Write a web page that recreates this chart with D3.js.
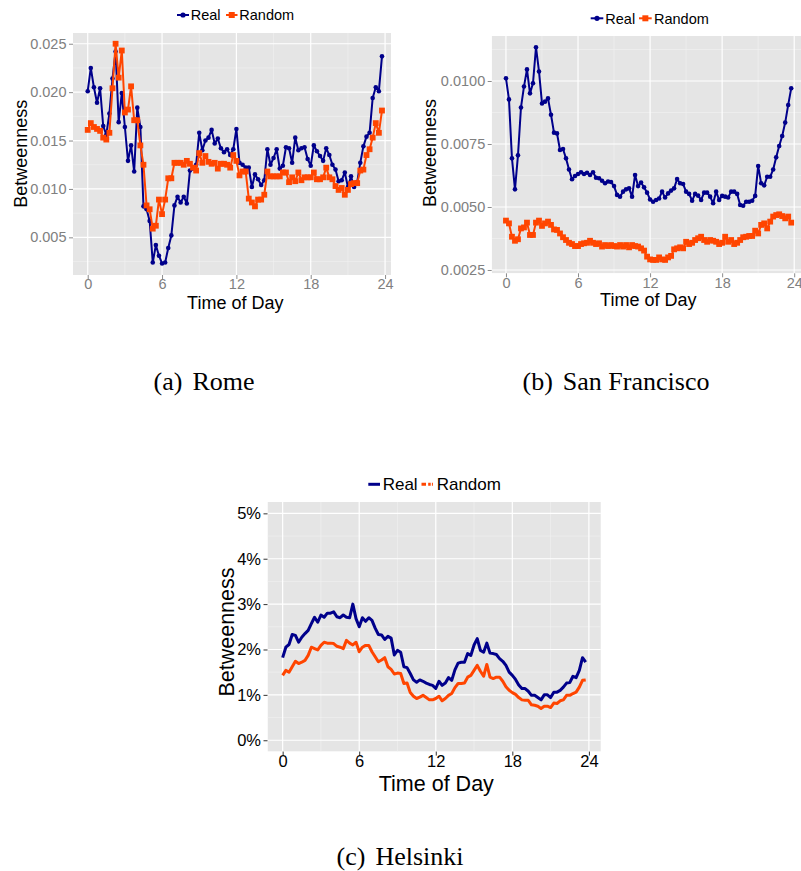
<!DOCTYPE html>
<html>
<head>
<meta charset="utf-8">
<script src="https://cdn.jsdelivr.net/npm/d3@7/dist/d3.min.js"></script>
<style>
  html, body { margin: 0; padding: 0; background: #fff; }
  svg { display: block; }
</style>
</head>
<body>
<svg id="fig" width="801" height="871"></svg>
<script>
// Time of day, in hours, sampled every 15 minutes
const timeOfDay = d3.range(96).map(i => i / 4);

// Rome
const romeReal = [
  0.0201, 0.0225, 0.0205, 0.0189, 0.0204, 0.0165, 0.0156, 0.0178,
  0.0214, 0.0242, 0.0169, 0.0199, 0.0164, 0.0129, 0.0145, 0.0118,
  0.0184, 0.0164, 0.0082, 0.0079, 0.0067, 0.0024, 0.0042, 0.0031,
  0.0023, 0.0024, 0.0039, 0.0052, 0.0083, 0.0092, 0.0086, 0.0092,
  0.0085, 0.0119, 0.0121, 0.0125, 0.0158, 0.0140, 0.0150, 0.0153,
  0.0161, 0.0147, 0.0152, 0.0142, 0.0138, 0.0141, 0.0135, 0.0141,
  0.0162, 0.0127, 0.0125, 0.0122, 0.0122, 0.0102, 0.0115, 0.0110,
  0.0104, 0.0109, 0.0141, 0.0125, 0.0132, 0.0141, 0.0121, 0.0124,
  0.0143, 0.0142, 0.0127, 0.0153, 0.0140, 0.0142, 0.0143, 0.0131,
  0.0124, 0.0145, 0.0139, 0.0134, 0.0129, 0.0142, 0.0135, 0.0125,
  0.0120, 0.0108, 0.0109, 0.0117, 0.0102, 0.0113, 0.0102, 0.0107,
  0.0127, 0.0144, 0.0154, 0.0158, 0.0194, 0.0205, 0.0201, 0.0237
];
const romeRandom = [
  0.0161, 0.0168, 0.0164, 0.0162, 0.0160, 0.0153, 0.0151, 0.0158,
  0.0204, 0.0250, 0.0215, 0.0243, 0.0179, 0.0182, 0.0206, 0.0171,
  0.0171, 0.0145, 0.0125, 0.0083, 0.0079, 0.0059, 0.0062, 0.0089,
  0.0074, 0.0089, 0.0111, 0.0111, 0.0127, 0.0127, 0.0127, 0.0125,
  0.0129, 0.0126, 0.0122, 0.0119, 0.0137, 0.0127, 0.0134, 0.0128,
  0.0126, 0.0127, 0.0121, 0.0126, 0.0126, 0.0125, 0.0122, 0.0135,
  0.0129, 0.0114, 0.0118, 0.0118, 0.0090, 0.0086, 0.0082, 0.0089,
  0.0089, 0.0094, 0.0118, 0.0113, 0.0113, 0.0113, 0.0113, 0.0117,
  0.0117, 0.0107, 0.0112, 0.0108, 0.0117, 0.0109, 0.0112, 0.0112,
  0.0112, 0.0117, 0.0110, 0.0110, 0.0112, 0.0122, 0.0112, 0.0110,
  0.0103, 0.0099, 0.0101, 0.0094, 0.0099, 0.0105, 0.0106, 0.0106,
  0.0119, 0.0120, 0.0135, 0.0141, 0.0153, 0.0168, 0.0158, 0.0181
];

// San Francisco
const sfReal = [
  0.01011, 0.00927, 0.00693, 0.00570, 0.00705, 0.00895, 0.00978, 0.01046,
  0.00951, 0.00991, 0.01134, 0.01038, 0.00911, 0.00918, 0.00931, 0.00866,
  0.00795, 0.00792, 0.00726, 0.00730, 0.00693, 0.00649, 0.00610, 0.00623,
  0.00631, 0.00638, 0.00631, 0.00636, 0.00627, 0.00638, 0.00616, 0.00614,
  0.00604, 0.00594, 0.00601, 0.00599, 0.00583, 0.00548, 0.00541, 0.00561,
  0.00570, 0.00574, 0.00541, 0.00627, 0.00583, 0.00597, 0.00578, 0.00557,
  0.00530, 0.00521, 0.00528, 0.00534, 0.00561, 0.00538, 0.00554, 0.00565,
  0.00574, 0.00611, 0.00594, 0.00591, 0.00561, 0.00552, 0.00525, 0.00552,
  0.00545, 0.00528, 0.00557, 0.00557, 0.00541, 0.00515, 0.00561, 0.00528,
  0.00544, 0.00541, 0.00538, 0.00561, 0.00561, 0.00552, 0.00508, 0.00505,
  0.00521, 0.00521, 0.00525, 0.00544, 0.00663, 0.00594, 0.00586, 0.00620,
  0.00620, 0.00649, 0.00697, 0.00742, 0.00782, 0.00835, 0.00905, 0.00971
];
const sfRandom = [
  0.00446, 0.00435, 0.00382, 0.00366, 0.00372, 0.00415, 0.00419, 0.00438,
  0.00389, 0.00389, 0.00438, 0.00446, 0.00425, 0.00435, 0.00442, 0.00429,
  0.00411, 0.00409, 0.00395, 0.00380, 0.00369, 0.00358, 0.00353, 0.00345,
  0.00345, 0.00353, 0.00356, 0.00358, 0.00366, 0.00358, 0.00353, 0.00356,
  0.00343, 0.00349, 0.00345, 0.00349, 0.00345, 0.00343, 0.00349, 0.00343,
  0.00349, 0.00340, 0.00349, 0.00345, 0.00343, 0.00336, 0.00327, 0.00303,
  0.00292, 0.00290, 0.00290, 0.00300, 0.00292, 0.00290, 0.00300, 0.00306,
  0.00332, 0.00336, 0.00340, 0.00336, 0.00362, 0.00353, 0.00358, 0.00369,
  0.00376, 0.00382, 0.00369, 0.00362, 0.00369, 0.00366, 0.00362, 0.00353,
  0.00358, 0.00382, 0.00362, 0.00369, 0.00353, 0.00358, 0.00369, 0.00380,
  0.00382, 0.00385, 0.00385, 0.00406, 0.00395, 0.00429, 0.00435, 0.00415,
  0.00442, 0.00462, 0.00468, 0.00471, 0.00464, 0.00455, 0.00462, 0.00438
];

// Helsinki (share of shortest paths)
const helReal = [
  0.0182, 0.0205, 0.0211, 0.0233, 0.0231, 0.0216, 0.0227, 0.0235,
  0.0242, 0.0257, 0.0271, 0.0260, 0.0276, 0.0271, 0.0280, 0.0280,
  0.0283, 0.0272, 0.0270, 0.0276, 0.0271, 0.0270, 0.0300, 0.0268,
  0.0250, 0.0270, 0.0262, 0.0270, 0.0264, 0.0247, 0.0233, 0.0232,
  0.0222, 0.0229, 0.0225, 0.0188, 0.0198, 0.0194, 0.0162, 0.0160,
  0.0147, 0.0133, 0.0128, 0.0133, 0.0130, 0.0126, 0.0123, 0.0121,
  0.0114, 0.0130, 0.0121, 0.0126, 0.0138, 0.0132, 0.0155, 0.0170,
  0.0172, 0.0172, 0.0191, 0.0187, 0.0210, 0.0224, 0.0198, 0.0194,
  0.0214, 0.0192, 0.0191, 0.0189, 0.0180, 0.0174, 0.0165, 0.0150,
  0.0143, 0.0134, 0.0122, 0.0114, 0.0114, 0.0108, 0.0099, 0.0099,
  0.0094, 0.0089, 0.0100, 0.0100, 0.0094, 0.0106, 0.0106, 0.0110,
  0.0117, 0.0126, 0.0127, 0.0141, 0.0138, 0.0154, 0.0182, 0.0172
];
const helRandom = [
  0.0143, 0.0154, 0.0150, 0.0162, 0.0174, 0.0169, 0.0172, 0.0176,
  0.0187, 0.0205, 0.0202, 0.0199, 0.0209, 0.0216, 0.0214, 0.0214,
  0.0213, 0.0207, 0.0205, 0.0202, 0.0220, 0.0214, 0.0210, 0.0216,
  0.0195, 0.0205, 0.0209, 0.0209, 0.0195, 0.0184, 0.0173, 0.0177,
  0.0182, 0.0162, 0.0156, 0.0146, 0.0148, 0.0147, 0.0125, 0.0126,
  0.0105, 0.0097, 0.0092, 0.0095, 0.0099, 0.0094, 0.0089, 0.0089,
  0.0092, 0.0097, 0.0087, 0.0092, 0.0099, 0.0103, 0.0116, 0.0125,
  0.0125, 0.0126, 0.0139, 0.0143, 0.0154, 0.0165, 0.0152, 0.0141,
  0.0167, 0.0139, 0.0136, 0.0139, 0.0139, 0.0130, 0.0118, 0.0110,
  0.0105, 0.0101, 0.0094, 0.0089, 0.0088, 0.0088, 0.0078, 0.0077,
  0.0075, 0.0070, 0.0075, 0.0075, 0.0072, 0.0082, 0.0081, 0.0087,
  0.0089, 0.0099, 0.0099, 0.0103, 0.0106, 0.0117, 0.0132, 0.0133
];

// Axis ticks
const hourTicks = [0, 6, 12, 18, 24];
const hourMinorTicks = [3, 9, 15, 21];
const romeTicks = [0.005, 0.010, 0.015, 0.020, 0.025];
const romeMinorTicks = [0.0025, 0.0075, 0.0125, 0.0175, 0.0225];
const sfTicks = [0.0025, 0.0050, 0.0075, 0.0100];
const sfMinorTicks = [0.00375, 0.00625, 0.00875, 0.01125];
const helTicks = [0, 0.01, 0.02, 0.03, 0.04, 0.05];
const helMinorTicks = [0.005, 0.015, 0.025, 0.035, 0.045];

const seriesNames = ["Real", "Random"];
const captions = [["(a)", "Rome"], ["(b)", "San Francisco"], ["(c)", "Helsinki"]];

const BLUE = "#00008b";
const ORANGE = "#ff4500";
const SANS = "'Liberation Sans', Arial, Helvetica, sans-serif";
const SERIF = "'Liberation Serif', 'Times New Roman', serif";

const svg = d3.select("#fig");
svg.append("rect").attr("width", 801).attr("height", 871).attr("fill", "#fff");

let clipId = 0;

function drawPanel(o) {
  const g = svg.append("g");
  const x = d3.scaleLinear().domain([-1.1875, 24.9375]).range([o.left, o.left + o.hourPx * 26.125]);
  const y = d3.scaleLinear().domain(o.yDomain).range([o.bottom, o.top]);
  const right = Math.min(x.range()[1], o.clipRight);

  const id = "clip" + (clipId++);
  svg.append("clipPath").attr("id", id)
    .append("rect").attr("x", o.left).attr("y", o.top)
    .attr("width", right - o.left).attr("height", o.bottom - o.top);

  const plot = g.append("g").attr("clip-path", `url(#${id})`);
  plot.append("rect").attr("x", o.left).attr("y", o.top)
    .attr("width", right - o.left).attr("height", o.bottom - o.top)
    .attr("fill", "#e5e5e5");

  // grid
  plot.selectAll(".gxm").data(hourMinorTicks).join("line")
    .attr("x1", d => x(d)).attr("x2", d => x(d))
    .attr("y1", o.top).attr("y2", o.bottom)
    .attr("stroke", "#f2f2f2").attr("stroke-width", 0.6);
  plot.selectAll(".gym").data(o.minorTicks).join("line")
    .attr("y1", d => y(d)).attr("y2", d => y(d))
    .attr("x1", o.left).attr("x2", right)
    .attr("stroke", "#f2f2f2").attr("stroke-width", 0.6);
  plot.selectAll(".gx").data(hourTicks).join("line")
    .attr("x1", d => x(d)).attr("x2", d => x(d))
    .attr("y1", o.top).attr("y2", o.bottom)
    .attr("stroke", "#fff").attr("stroke-width", 1.2);
  plot.selectAll(".gy").data(o.ticks).join("line")
    .attr("y1", d => y(d)).attr("y2", d => y(d))
    .attr("x1", o.left).attr("x2", right)
    .attr("stroke", "#fff").attr("stroke-width", 1.2);

  const line = d3.line().x((d, i) => x(timeOfDay[i])).y(d => y(d));
  const series = [
    { values: o.real, color: BLUE, shape: "circle" },
    { values: o.random, color: ORANGE, shape: "square" }
  ];
  const drawOrder = o.randomOnTop ? [0, 1] : [1, 0];
  drawOrder.forEach(k => {
    const s = series[k];
    plot.append("path").datum(s.values)
      .attr("d", line).attr("fill", "none")
      .attr("stroke", s.color).attr("stroke-width", o.lineWidth)
      .attr("stroke-linejoin", "round");
    if (o.markers) {
      if (s.shape === "circle") {
        plot.selectAll(null).data(s.values).join("circle")
          .attr("cx", (d, i) => x(timeOfDay[i])).attr("cy", d => y(d))
          .attr("r", 2.3).attr("fill", s.color);
      } else {
        plot.selectAll(null).data(s.values).join("rect")
          .attr("x", (d, i) => x(timeOfDay[i]) - 2.9).attr("y", d => y(d) - 2.9)
          .attr("width", 5.8).attr("height", 5.8).attr("fill", s.color);
      }
    }
  });

  // axes
  const ax = g.append("g").attr("transform", `translate(0,${o.bottom})`)
    .call(d3.axisBottom(x).tickValues(hourTicks).tickSize(4).tickPadding(o.xPad).tickFormat(d3.format("d")));
  const ay = g.append("g").attr("transform", `translate(${o.left},0)`)
    .call(d3.axisLeft(y).tickValues(o.ticks).tickSize(4).tickPadding(2.5).tickFormat(o.fmt));
  [ax, ay].forEach(a => {
    a.select(".domain").remove();
    a.selectAll(".tick line").attr("stroke", o.tickLineColor).attr("stroke-width", 1);
    a.selectAll(".tick text").attr("fill", o.tickColor)
      .style("font-family", SANS).style("font-size", o.tickFont + "px");
  });
  ax.selectAll(".tick").filter(d => x(d) > o.clipRight).select("line").remove();

  // axis titles
  g.append("text").attr("x", o.xTitle[0]).attr("y", o.xTitle[1])
    .attr("text-anchor", "middle").style("font-family", SANS)
    .style("font-size", o.titleFont + "px").attr("fill", "#000").text("Time of Day");
  g.append("text")
    .attr("transform", `translate(${o.yTitle[0]},${o.yTitle[1]}) rotate(-90)`)
    .attr("text-anchor", "middle").style("font-family", SANS)
    .style("font-size", o.titleFont + "px").attr("fill", "#000").text("Betweenness");

  // legend
  const lg = g.append("g");
  o.legend.forEach((item, k) => {
    const s = series[k];
    const k0 = item.key[0], k1 = item.key[1], cy = o.legendY;
    const seg = lg.append("line").attr("x1", k0).attr("x2", k1).attr("y1", cy).attr("y2", cy)
      .attr("stroke", s.color).attr("stroke-width", o.legendLineWidth);
    if (o.legendDash && k === 1) seg.attr("stroke-dasharray", o.legendDash);
    if (o.markers) {
      const cx = (k0 + k1) / 2;
      if (s.shape === "circle") {
        lg.append("circle").attr("cx", cx).attr("cy", cy).attr("r", 2.6).attr("fill", s.color);
      } else {
        lg.append("rect").attr("x", cx - 3).attr("y", cy - 3).attr("width", 6).attr("height", 6).attr("fill", s.color);
      }
    }
    lg.append("text").attr("x", item.text).attr("y", cy + o.legendFont * 0.36)
      .style("font-family", SANS).style("font-size", o.legendFont + "px")
      .attr("fill", "#000").text(seriesNames[k]);
  });
}

drawPanel({
  left: 73, top: 33, bottom: 275, hourPx: 12.39, clipRight: 391,
  yDomain: [0.00111, 0.02611], ticks: romeTicks, minorTicks: romeMinorTicks,
  fmt: d3.format(".3f"), real: romeReal, random: romeRandom, markers: true,
  lineWidth: 2, tickFont: 14.5, tickColor: "#808080", tickLineColor: "#8c8c8c", xPad: 0,
  titleFont: 18, xTitle: [235.3, 308.5], yTitle: [26.5, 153.7], randomOnTop: true,
  legendY: 15, legendFont: 14.5, legendLineWidth: 2,
  legend: [{ key: [177, 189], text: 190.7 }, { key: [226, 237.5], text: 239.3 }]
});

drawPanel({
  left: 491.7, top: 36, bottom: 273.3, hourPx: 12.01, clipRight: 801,
  yDomain: [0.002369, 0.011786], ticks: sfTicks, minorTicks: sfMinorTicks,
  fmt: d3.format(".4f"), real: sfReal, random: sfRandom, markers: true,
  lineWidth: 2, tickFont: 14.5, tickColor: "#808080", tickLineColor: "#8c8c8c", xPad: 0,
  titleFont: 18, xTitle: [648.3, 306], yTitle: [436, 153], randomOnTop: true,
  legendY: 18.3, legendFont: 14.5, legendLineWidth: 2,
  legend: [{ key: [590.7, 603.3], text: 605.3 }, { key: [639, 651.7], text: 654 }]
});

drawPanel({
  left: 267.5, top: 502, bottom: 751.6, hourPx: 12.76, clipRight: 601,
  yDomain: [-0.0025, 0.0525], ticks: helTicks, minorTicks: helMinorTicks,
  fmt: d3.format(".0%"), real: helReal, random: helRandom, markers: false,
  lineWidth: 3, tickFont: 16.5, tickColor: "#000", tickLineColor: "#333", xPad: 0,
  titleFont: 21.5, xTitle: [436.3, 790.5], yTitle: [234, 632], randomOnTop: false,
  legendY: 484.3, legendFont: 17, legendLineWidth: 3, legendDash: "4.5,2.2,2.5,1.2,1,2",
  legend: [{ key: [368.3, 380], text: 382.7 }, { key: [421.5, 433.5], text: 436.7 }]
});

// sub-figure captions
const capPos = [[204, 390], [616, 390], [400, 865]];
captions.forEach((c, i) => {
  const t = svg.append("text").attr("x", capPos[i][0]).attr("y", capPos[i][1])
    .attr("text-anchor", "middle").style("font-family", SERIF)
    .style("font-size", "26px").attr("fill", "#000");
  t.append("tspan").text(c[0]);
  t.append("tspan").attr("dx", 10).text(c[1]);
});
</script>
</body>
</html>
